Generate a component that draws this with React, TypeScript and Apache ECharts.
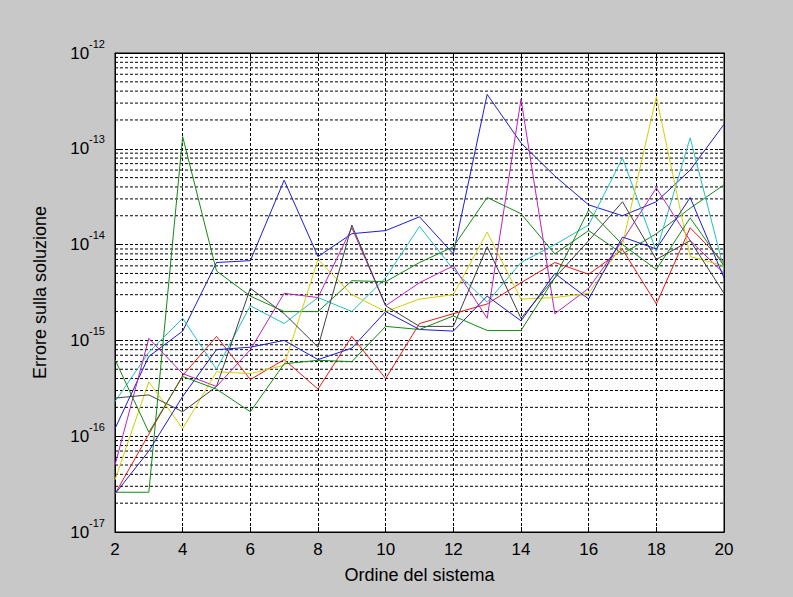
import React, { useEffect, useRef } from "react";
import * as echarts from "echarts";

// Ordine del sistema (x)
const ORDERS = [2, 3, 4, 5, 6, 7, 8, 9, 10, 11, 12, 13, 14, 15, 16, 17, 18, 19, 20];

// Errore sulla soluzione, one array per trial (MATLAB colour order)
const blueA = [1.2e-16, 6.8e-16, 1.25e-15, 6.5e-15, 6.8e-15, 4.7e-14, 7.5e-15, 1.3e-14, 1.4e-14, 1.95e-14, 8e-15, 3.7e-13, 1.15e-13, 5.2e-14, 2.6e-14, 2e-14, 2.8e-14, 6e-14, 1.8e-13];
const greenA = [2.6e-17, 2.6e-17, 1.34e-13, 5.3e-15, 2.9e-15, 2e-15, 2e-15, 4.2e-15, 4.1e-15, 6.5e-15, 9.5e-15, 3.1e-14, 2.1e-14, 8e-15, 1.4e-14, 8e-15, 1.3e-14, 2.4e-14, 4.2e-14];
const red = [2.5e-17, 1.05e-16, 4.3e-16, 1.1e-15, 3.9e-16, 6.3e-16, 3.1e-16, 1.1e-15, 4e-16, 1.5e-15, 1.9e-15, 2.4e-15, 4e-15, 6.5e-15, 4.9e-15, 8.9e-15, 2.4e-15, 1.5e-14, 6.5e-15];
const cyan = [2.3e-16, 7.5e-16, 1.7e-15, 5e-16, 2.3e-15, 1.5e-15, 2.8e-15, 2e-15, 4.5e-15, 1.55e-14, 5.5e-15, 2.5e-15, 6.5e-15, 1e-14, 1.6e-14, 8e-14, 8.5e-15, 1.3e-13, 5.5e-15];
const magenta = [5e-17, 1.05e-15, 4.5e-16, 3.3e-16, 8e-16, 3.1e-15, 2.8e-15, 1.5e-14, 2.3e-15, 4e-15, 6e-15, 1.7e-15, 3.3e-13, 1.9e-15, 3.5e-15, 1.1e-14, 3.9e-14, 1.1e-14, 5e-15];
const yellow = [3.5e-17, 3.7e-16, 1.2e-16, 4.7e-16, 4.5e-16, 5.5e-16, 7e-15, 3e-15, 2e-15, 2.7e-15, 3e-15, 1.35e-14, 2.7e-15, 2.8e-15, 3.1e-15, 1e-14, 3.5e-13, 7.5e-15, 6e-15];
const black = [2.5e-16, 2.7e-16, 1.8e-16, 3.3e-16, 3.5e-15, 1.9e-15, 8.5e-16, 1.6e-14, 2.3e-15, 1.4e-15, 1.4e-15, 9.5e-15, 1.7e-15, 4.5e-15, 1.1e-14, 2.8e-14, 7e-15, 1.1e-14, 3.1e-15];
const blueB = [2.5e-17, 7e-17, 2.6e-16, 8e-16, 8.5e-16, 1e-15, 6.3e-16, 8.3e-16, 2e-15, 1.3e-15, 1.25e-15, 2.9e-15, 1.6e-15, 5e-15, 2.7e-15, 1.2e-14, 9e-15, 3.1e-14, 4.5e-15];
const greenB = [6.3e-16, 1.1e-16, 4.2e-16, 3.1e-16, 1.8e-16, 5.7e-16, 6.2e-16, 6e-16, 1.4e-15, 1.3e-15, 1.8e-15, 1.27e-15, 1.27e-15, 4.5e-15, 2.3e-14, 1e-14, 5.5e-15, 1.9e-14, 6e-15];

const SERIES = [blueA, greenA, red, cyan, magenta, yellow, black, blueB, greenB];
const COLORS = ["#1c1cd8", "#138a13", "#f01818", "#22c0c0", "#c020c0", "#d4d000", "#404040", "#1c1cd8", "#138a13"];

// minor log grid values (2..9 per decade)
const DECADES = [-17, -16, -15, -14, -13];
const MULTS = [2, 3, 4, 5, 6, 7, 8, 9];

const FONT = "'Liberation Sans', Arial, sans-serif";

export default function App() {
  const ref = useRef<HTMLDivElement>(null);
  useEffect(() => {
    if (!ref.current) return;
    const chart = echarts.init(ref.current, null, { renderer: "svg" });
    const minorVals: number[] = [];
    DECADES.forEach((d) => MULTS.forEach((m) => minorVals.push(Number((m * Math.pow(10, d)).toPrecision(3)))));
    const dotted = { type: [3, 2], color: "#000", width: 1 };
    const minorSeries = minorVals.map((v) => ({
      type: "line",
      z: 1,
      silent: true,
      data: [
        [ORDERS[0], v],
        [ORDERS[ORDERS.length - 1], v],
      ],
      showSymbol: false,
      symbol: "none",
      lineStyle: dotted,
    }));
    const option: any = {
      animation: false,
      backgroundColor: "#c8c8c8",
      grid: {
        left: 115,
        top: 53,
        right: 69,
        bottom: 65,
        show: true,
        backgroundColor: "#ffffff",
        borderColor: "#000",
        borderWidth: 1,
      },
      xAxis: [
        {
          type: "value",
          min: 2,
          max: 20,
          interval: 2,
          name: "Ordine del sistema",
          nameLocation: "middle",
          nameGap: 34,
          nameTextStyle: { fontSize: 18, fontFamily: FONT, color: "#000" },
          axisLine: { show: true, lineStyle: { color: "#000" } },
          axisTick: { show: true, inside: true, length: 5, lineStyle: { color: "#000" } },
          axisLabel: { fontSize: 17, fontFamily: FONT, color: "#000", margin: 9 },
          splitLine: { show: true, lineStyle: dotted },
        },
        {
          type: "value",
          position: "top",
          min: 2,
          max: 20,
          interval: 2,
          axisLine: { show: true, lineStyle: { color: "#000" } },
          axisTick: { show: true, inside: true, length: 5, lineStyle: { color: "#000" } },
          axisLabel: { show: false },
          splitLine: { show: false },
        },
      ],
      yAxis: [
        {
          type: "log",
          logBase: 10,
          min: 1e-17,
          max: 1e-12,
          name: "Errore sulla soluzione",
          nameLocation: "middle",
          nameGap: 66,
          nameTextStyle: { fontSize: 18, fontFamily: FONT, color: "#000" },
          axisLine: { show: true, lineStyle: { color: "#000" } },
          axisTick: { show: true, inside: true, length: 5, lineStyle: { color: "#000" } },
          axisLabel: {
            margin: 10,
            fontFamily: FONT,
            color: "#000",
            formatter: (v: number) => `{b|10}{s|${Math.round(Math.log10(v))}}`,
            rich: {
              b: { fontSize: 17, lineHeight: 30, fontFamily: FONT, color: "#000", verticalAlign: "middle" },
              s: { fontSize: 11, lineHeight: 12, fontFamily: FONT, color: "#000", verticalAlign: "top" },
            },
          },
          splitLine: { show: true, lineStyle: dotted },
        },
        {
          type: "log",
          logBase: 10,
          position: "right",
          min: 1e-17,
          max: 1e-12,
          axisLine: { show: true, lineStyle: { color: "#000" } },
          axisTick: { show: true, inside: true, length: 5, lineStyle: { color: "#000" } },
          axisLabel: { show: false },
          splitLine: { show: false },
        },
      ],
      series: [
        ...minorSeries,
        ...SERIES.map((vals, i) => ({
          type: "line",
          z: 3,
          data: ORDERS.map((x, j) => [x, vals[j]]),
          showSymbol: false,
          symbol: "none",
          lineStyle: { color: COLORS[i], width: 1 },
          itemStyle: { color: COLORS[i] },
        })),
      ],
    };
    chart.setOption(option);
    return () => chart.dispose();
  }, []);
  return (
    <div
      ref={ref}
      style={{ position: "absolute", left: 0, top: 0, width: 793, height: 597, background: "#c8c8c8" }}
    />
  );
}
